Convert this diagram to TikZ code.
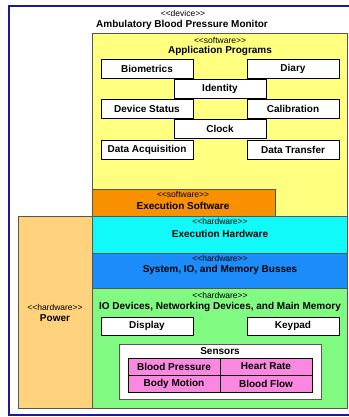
\documentclass[tikz,border=0pt]{standalone}
\usepackage{fontspec}
\setmainfont{Liberation Sans}
\usepackage{xcolor}
\usetikzlibrary{positioning}

\definecolor{deviceblue}{HTML}{1A1A9A}
\definecolor{layerline}{HTML}{5A5550}
\definecolor{appyellow}{HTML}{FFFF80}
\definecolor{execorange}{HTML}{F99000}
\definecolor{powerorange}{HTML}{FFD37E}
\definecolor{hwcyan}{HTML}{10FAFA}
\definecolor{busblue}{HTML}{1C8CFA}
\definecolor{iogreen}{HTML}{80FA80}
\definecolor{sensorpink}{HTML}{FA88E0}

\newcommand{\stlt}{{<}{<}}
\newcommand{\stgt}{{>}{>}}

\begin{document}
\begin{tikzpicture}[x=1pt, y=-1pt,
    layer/.style={draw=layerline, line width=0.8pt, anchor=north west, inner sep=0pt},
    part/.style={draw=black, fill=white, line width=0.6pt, minimum width=92pt, minimum height=19pt, inner sep=0pt, font=\fontsize{10}{12}\selectfont\bfseries},
    cell/.style={draw=black, fill=sensorpink, line width=0.6pt, minimum width=92pt, minimum height=17pt, inner sep=0pt, font=\fontsize{10}{12}\selectfont\bfseries},
    stereo/.style={inner sep=0pt, font=\fontsize{8.5}{10}\selectfont},
    title/.style={inner sep=0pt, font=\fontsize{10}{12}\selectfont\bfseries}
]
    \useasboundingbox (0,0) rectangle (348,417);

    % Device frame
    \node[draw=deviceblue, line width=2pt, anchor=north west, inner sep=0pt, minimum width=346pt, minimum height=409pt] (device) at (8,5) {};
    \node[stereo] (devst) at (183,13) {\stlt device\stgt};
    \node[title] (devname) at (182,25) {Ambulatory Blood Pressure Monitor};

    % Software layers
    \node[layer, fill=appyellow, minimum width=255pt, minimum height=183pt] (app) at (92,33) {};
    \node[stereo] (appst) at (220,40) {\stlt software\stgt};
    \node[title] (appname) at (220,51) {Application Programs};

    \node[part] (biometrics) at (147,68.5) {Biometrics};
    \node[part] (diary) at (293,68.5) {Diary};
    \node[part] (identity) at (220,88.5) {Identity};
    \node[part] (status) at (147,108.5) {Device Status};
    \node[part] (calibration) at (293,108.5) {Calibration};
    \node[part] (clock) at (220,128.5) {Clock};
    \node[part] (acquisition) at (147,149.5) {Data Acquisition};
    \node[part] (transfer) at (293,149.5) {Data Transfer};

    \node[layer, fill=execorange, minimum width=183pt, minimum height=27pt] (execsw) at (92,189) {};
    \node[stereo] (execswst) at (183,194) {\stlt software\stgt};
    \node[title] (execswname) at (183,206) {Execution Software};

    % Hardware layers
    \node[layer, fill=powerorange, minimum width=74pt, minimum height=192pt] (power) at (18,216) {};
    \node[stereo] (powerst) at (55,307) {\stlt hardware\stgt};
    \node[title] (powername) at (55,318) {Power};

    \node[layer, fill=hwcyan, minimum width=255pt, minimum height=37pt] (exechw) at (92,216) {};
    \node[stereo] (exechwst) at (220,221.5) {\stlt hardware\stgt};
    \node[title] (exechwname) at (220,233.5) {Execution Hardware};

    \node[layer, fill=busblue, minimum width=255pt, minimum height=35pt] (busses) at (92,253) {};
    \node[stereo] (bussesst) at (220,258) {\stlt hardware\stgt};
    \node[title] (bussesname) at (220,270) {System, IO, and Memory Busses};

    \node[layer, fill=iogreen, minimum width=255pt, minimum height=120pt] (io) at (92,288) {};
    \node[stereo] (iost) at (220,295) {\stlt hardware\stgt};
    \node[title] (ioname) at (220,307) {IO Devices, Networking Devices, and Main Memory};

    \node[part, minimum height=18pt] (display) at (147,326) {Display};
    \node[part, minimum height=18pt] (keypad) at (293,326) {Keypad};

    % Sensors
    \node[layer, draw=layerline, fill=white, line width=1pt, minimum width=202pt, minimum height=55pt] (sensors) at (119,344) {};
    \node[title] (sensorsname) at (220,351) {Sensors};
    \node[cell] (pressure) at (174,366.5) {Blood Pressure};
    \node[cell] (heartrate) at (266,366.5) {Heart Rate};
    \node[cell] (motion) at (174,383.5) {Body Motion};
    \node[cell] (flow) at (266,383.5) {Blood Flow};
\end{tikzpicture}
\end{document}
